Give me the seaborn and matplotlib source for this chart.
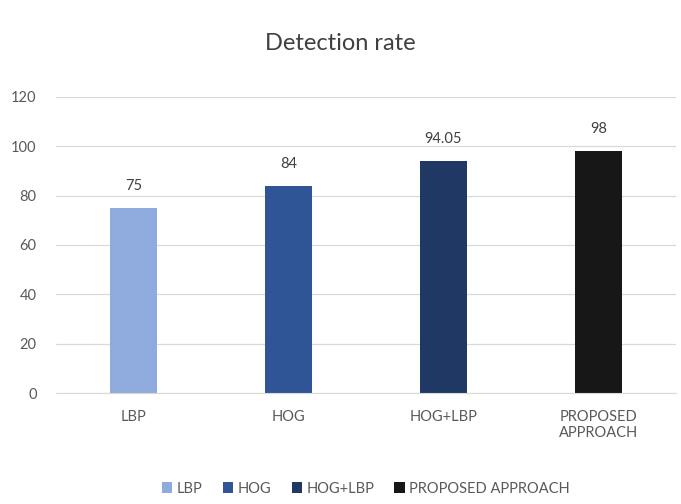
import pandas as pd
import matplotlib.pyplot as plt
import seaborn as sns

methods = ["LBP", "HOG", "HOG+LBP", "PROPOSED APPROACH"]
tick_labels = ["LBP", "HOG", "HOG+LBP", "PROPOSED\nAPPROACH"]
detection_rate = [75, 84, 94.05, 98]
value_labels = ["75", "84", "94.05", "98"]
colors = ["#8FAADC", "#2F5597", "#1F3864", "#171717"]

df = pd.DataFrame({"Method": methods, "Rate": detection_rate})

sns.set_style("whitegrid")
plt.rcParams["font.family"] = ["Lato", "DejaVu Sans"]

fig = plt.figure(figsize=(6.81, 5.04), dpi=100)
ax = fig.add_axes([0.0822, 0.220, 0.9104, 0.588])

sns.barplot(
    data=df,
    x="Method",
    y="Rate",
    hue="Method",
    palette=colors,
    saturation=1,
    width=0.30,
    dodge=False,
    legend=True,
    linewidth=0,
    ax=ax
)

for bar, txt in zip(ax.patches, value_labels):
    ax.text(
        bar.get_x() + bar.get_width() / 2,
        bar.get_height() + 6,
        txt,
        ha="center",
        va="bottom",
        fontsize=10.5,
        color="#404040"
    )

ax.set_ylim(0, 120)
ax.set_yticks(range(0, 121, 20))
ax.set_xticks(range(len(methods)))
ax.set_xticklabels(tick_labels)
ax.tick_params(axis="both", colors="#595959", labelsize=10.5, length=0)
ax.tick_params(axis="x", pad=12)
ax.tick_params(axis="y", pad=14)
ax.set_xlabel("")
ax.set_ylabel("")
ax.grid(axis="y", color="#D9D9D9", linewidth=0.9)
ax.grid(axis="x", visible=False)
for side in ["top", "right", "left"]:
    ax.spines[side].set_visible(False)
ax.spines["bottom"].set_color("#D9D9D9")

fig.suptitle("Detection rate", y=0.935, fontsize=17, color="#404040")

handles, labels = ax.get_legend_handles_labels()
ax.legend(
    handles,
    labels,
    loc="lower center",
    bbox_to_anchor=(0.5, -0.39),
    ncol=4,
    frameon=False,
    fontsize=10.5,
    handlelength=0.7,
    handleheight=0.7,
    handletextpad=0.3,
    columnspacing=1.4,
    labelcolor="#595959"
)

plt.savefig("out.png", dpi=100)
